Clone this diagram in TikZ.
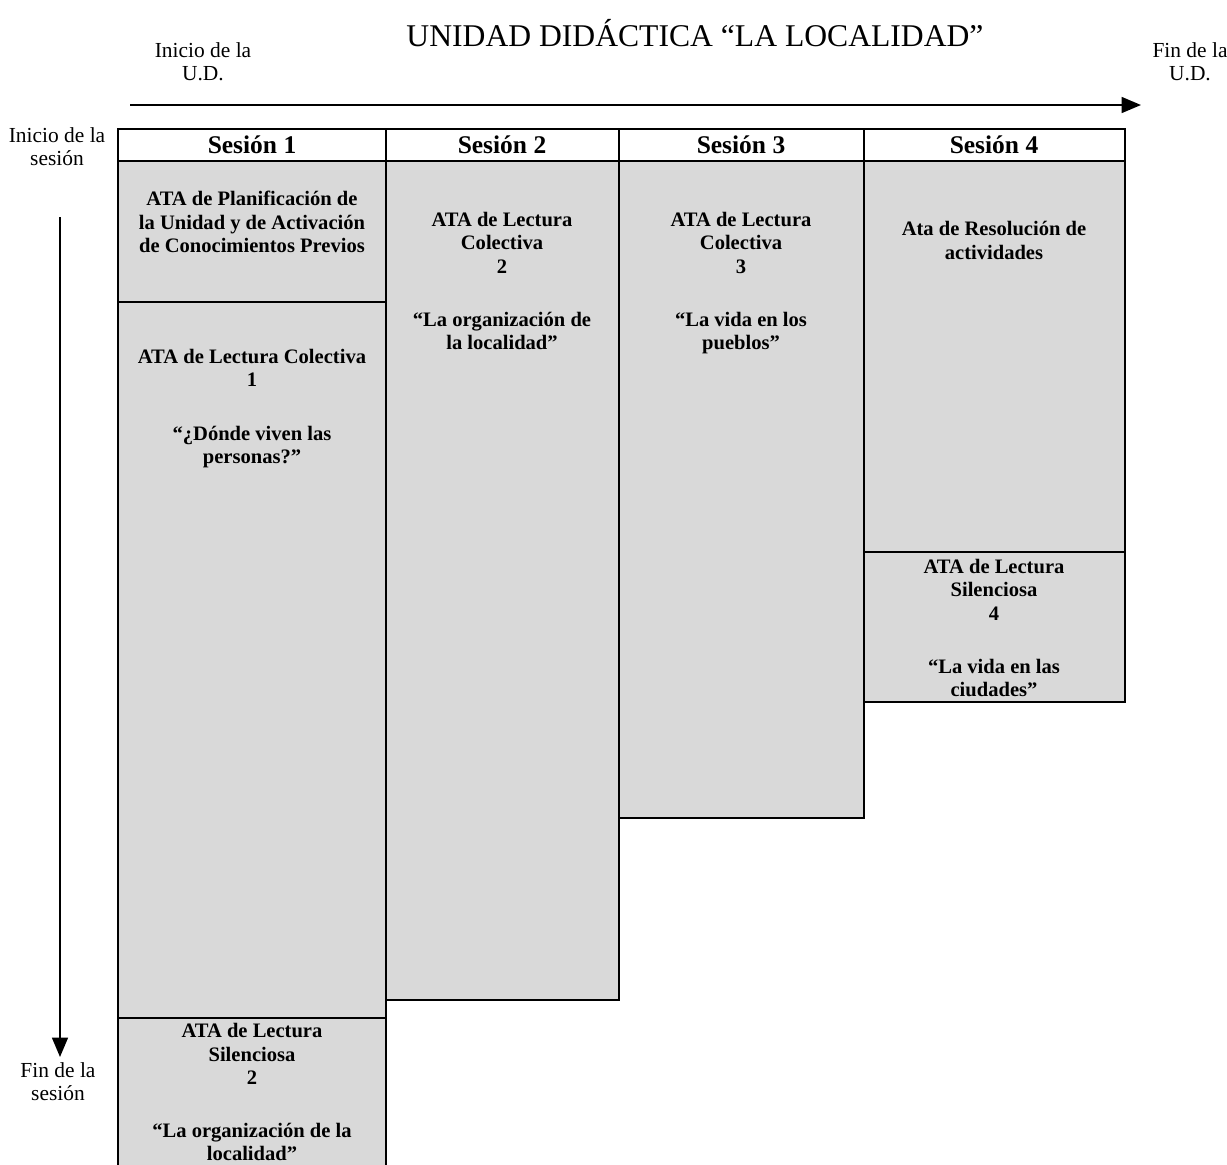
\documentclass[tikz,border=0pt]{standalone}
\usepackage{fontspec}
\setmainfont{Liberation Serif}
\usetikzlibrary{arrows.meta,fit}
\definecolor{boxgray}{RGB}{217,217,217}

\begin{document}
\begin{tikzpicture}[x=0.02cm, y=-0.02cm,
    box/.style={draw, line width=1.1pt, fill=boxgray, inner sep=0pt},
    head/.style={draw, line width=1.1pt, fill=white, inner sep=0pt},
    headtxt/.style={anchor=base, inner sep=0pt, font=\fontsize{14.5}{16}\selectfont\bfseries},
    txt/.style={align=center, inner sep=0pt, anchor=north, font=\fontsize{11.7}{13.3}\selectfont\bfseries},
    note/.style={align=center, inner sep=0pt, anchor=north, font=\fontsize{12.2}{13.2}\selectfont},
    arr/.style={line width=1.1pt, -{Triangle[length=11pt, width=9pt]}}]
    \clip (0,0) rectangle (1227,1164);

    \node[anchor=base, inner sep=0pt, font=\fontsize{18}{20}\selectfont] (title) at (695,46) {UNIDAD DIDÁCTICA “LA LOCALIDAD”};
    \node[note] (ud0) at (203,42) {Inicio de la\\U.D.};
    \node[note] (ud1) at (1190,42) {Fin de la\\U.D.};
    \node[note] (ses0) at (57,127) {Inicio de la\\sesión};
    \node[note] (ses1) at (58,1062) {Fin de la\\sesión};

    \coordinate (a0) at (130,105);
    \coordinate (a1) at (1141,105);
    \coordinate (b0) at (60,217);
    \coordinate (b1) at (60,1057);
    \draw[arr] (a0) -- (a1);
    \draw[arr] (b0) -- (b1);

    \node[box, fit={(118,161) (386,302)}] (s1a) {};
    \node[box, fit={(118,302) (386,1018)}] (s1b) {};
    \node[box, fit={(118,1018) (386,1170)}] (s1c) {};
    \node[box, fit={(386,161) (619,1000)}] (s2) {};
    \node[box, fit={(619,161) (864,818)}] (s3) {};
    \node[box, fit={(864,161) (1125,552)}] (s4a) {};
    \node[box, fit={(864,552) (1125,702)}] (s4b) {};

    \node[head, fit={(118,129) (386,161)}] (h1) {};
    \node[head, fit={(386,129) (619,161)}] (h2) {};
    \node[head, fit={(619,129) (864,161)}] (h3) {};
    \node[head, fit={(864,129) (1125,161)}] (h4) {};
    \node[headtxt] (l1) at (252,153) {Sesión 1};
    \node[headtxt] (l2) at (502,153) {Sesión 2};
    \node[headtxt] (l3) at (741,153) {Sesión 3};
    \node[headtxt] (l4) at (994,153) {Sesión 4};

    \node[txt] (t1a) at (252,191) {ATA de Planificación de\\la Unidad y de Activación\\de Conocimientos Previos};
    \node[txt] (t1b) at (252,349) {ATA de Lectura Colectiva\\1\\[17pt]“¿Dónde viven las\\personas?”};
    \node[txt] (t1c) at (252,1023) {ATA de Lectura\\Silenciosa\\2\\[17pt]“La organización de la\\localidad”};
    \node[txt] (t2) at (502,212) {ATA de Lectura\\Colectiva\\2\\[17pt]“La organización de\\la localidad”};
    \node[txt] (t3) at (741,212) {ATA de Lectura\\Colectiva\\3\\[17pt]“La vida en los\\pueblos”};
    \node[txt] (t4a) at (994,221) {Ata de Resolución de\\actividades};
    \node[txt] (t4b) at (994,559) {ATA de Lectura\\Silenciosa\\4\\[17pt]“La vida en las\\ciudades”};
\end{tikzpicture}
\end{document}
